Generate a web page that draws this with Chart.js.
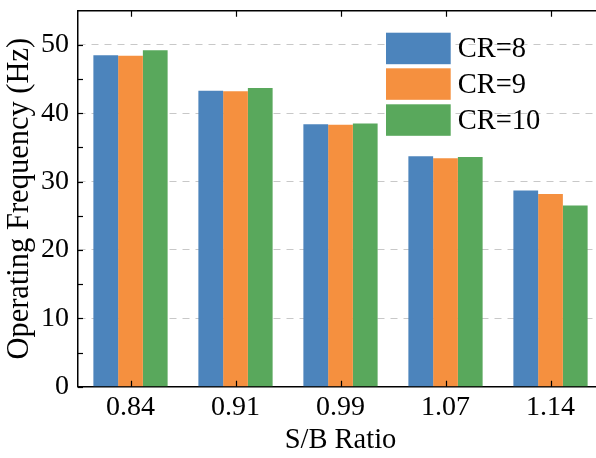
<!DOCTYPE html>
<html>
<head>
<meta charset="utf-8">
<script src="https://cdn.jsdelivr.net/npm/chart.js@4/dist/chart.umd.min.js"></script>
<style>
html, body { margin: 0; padding: 0; background: #fff; overflow: hidden; }
canvas { display: block; }
</style>
</head>
<body>
<canvas id="c" width="603" height="458"></canvas>
<script>
const categories = ['0.84', '0.91', '0.99', '1.07', '1.14'];
const seriesNames = ['CR=8', 'CR=9', 'CR=10'];
const cr8 = [48.5, 43.3, 38.4, 33.7, 28.7];
const cr9 = [48.4, 43.2, 38.3, 33.4, 28.2];
const cr10 = [49.2, 43.7, 38.5, 33.6, 26.5];
const yTicks = [0, 10, 20, 30, 40, 50];
const yMinorTicks = [5, 15, 25, 35, 45];
const yMax = 55;

const colors = ['#4C84BC', '#F5903F', '#59A85C'];
const FONT = '"Liberation Serif", "Times New Roman", serif';

const decorPlugin = {
  id: 'decor',
  afterDraw(chart) {
    const ctx = chart.ctx;
    const area = chart.chartArea;
    const x = chart.scales.x, y = chart.scales.y;
    ctx.save();
    ctx.strokeStyle = '#000';
    ctx.lineWidth = 1.5;
    // top frame line
    ctx.beginPath();
    ctx.moveTo(area.left, area.top);
    ctx.lineTo(area.right, area.top);
    ctx.stroke();
    // y ticks inside
    ctx.lineWidth = 1.2;
    yTicks.concat(yMinorTicks).forEach(v => {
      const py = Math.round(y.getPixelForValue(v)) + 0.5;
      ctx.beginPath();
      ctx.moveTo(area.left, py);
      ctx.lineTo(area.left + 5, py);
      ctx.stroke();
    });
    // x ticks inside, bottom and top
    categories.forEach((c, i) => {
      const px = Math.round(x.getPixelForValue(i)) + 0.5;
      ctx.beginPath();
      ctx.moveTo(px, area.bottom);
      ctx.lineTo(px, area.bottom - 6);
      ctx.moveTo(px, area.top);
      ctx.lineTo(px, area.top + 6);
      ctx.stroke();
    });
    // legend
    const bx = 386, bw = 64.7, bh = 31.5, rowY = [32.7, 68.3, 104.3];
    ctx.font = '28.5px ' + FONT;
    ctx.textBaseline = 'middle';
    ctx.textAlign = 'left';
    chart.data.datasets.forEach((ds, i) => {
      ctx.fillStyle = ds.backgroundColor;
      ctx.fillRect(bx, rowY[i], bw, bh);
      ctx.fillStyle = '#000';
      ctx.fillText(ds.label, bx + bw + 7, rowY[i] + bh / 2 + 1);
    });
    ctx.restore();
  }
};

new Chart(document.getElementById('c'), {
  type: 'bar',
  data: {
    labels: categories,
    datasets: [
      { label: seriesNames[0], data: cr8, backgroundColor: colors[0] },
      { label: seriesNames[1], data: cr9, backgroundColor: colors[1] },
      { label: seriesNames[2], data: cr10, backgroundColor: colors[2] }
    ]
  },
  options: {
    responsive: false,
    animation: false,
    devicePixelRatio: 1,
    layout: { padding: { top: 10.7, left: 0, right: 0, bottom: 0 } },
    datasets: { bar: { categoryPercentage: 0.707, barPercentage: 1.0, borderWidth: 0 } },
    plugins: { legend: { display: false }, tooltip: { enabled: false } },
    scales: {
      x: {
        grid: { display: false, drawTicks: false },
        border: { display: true, color: '#000', width: 1.5 },
        ticks: { color: '#000', padding: 4, font: { family: FONT, size: 28 }, maxRotation: 0 },
        title: { display: true, text: 'S/B Ratio', color: '#000', padding: { top: 0, bottom: 0 }, font: { family: FONT, size: 28.5 } },
        afterFit(scale) { scale.height = 71.3; scale.paddingLeft = 0; scale.paddingRight = 0; }
      },
      y: {
        min: 0, max: yMax,
        afterBuildTicks(scale) { scale.ticks = yTicks.map(v => ({ value: v })); },
        grid: {
          drawTicks: false,
          lineWidth: 1,
          color: ctx => (ctx.tick && ctx.tick.value === 0) ? 'rgba(0,0,0,0)' : '#C8C8C8'
        },
        border: { display: true, color: '#000', width: 1.5, dash: [7, 6] },
        ticks: { color: '#000', padding: 9, font: { family: FONT, size: 28 } },
        title: { display: true, text: 'Operating Frequency (Hz)', color: '#000', padding: { top: 1.5, bottom: 0 }, font: { family: FONT, size: 30.5 } },
        afterFit(scale) { scale.width = 78; scale.paddingTop = 0; scale.paddingBottom = 0; }
      }
    }
  },
  plugins: [decorPlugin]
});
</script>
</body>
</html>
